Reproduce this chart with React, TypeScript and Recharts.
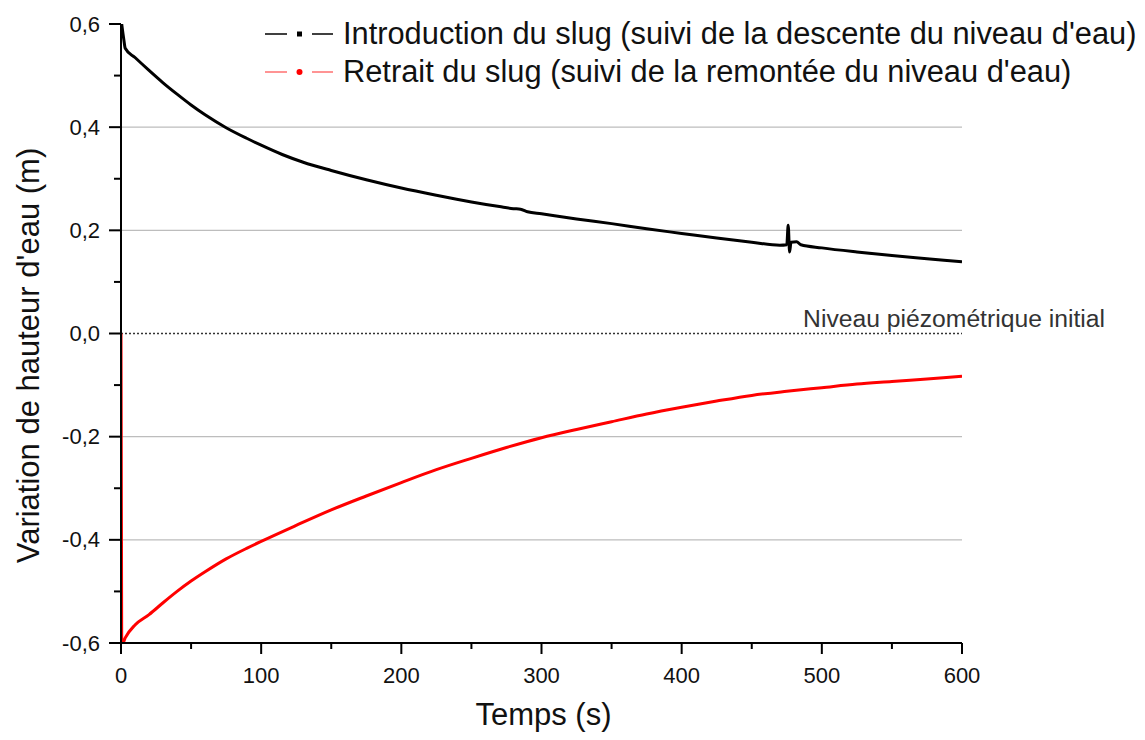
import { LineChart, Line, XAxis, YAxis, ReferenceLine } from 'recharts';

// Introduction du slug (descente)
const introTemps = [0.5, 2, 3, 10, 20, 30, 40, 50, 60, 75, 90, 100, 115, 130, 150, 175, 200, 225, 250, 270, 280, 285, 290, 300, 325, 350, 375, 400, 425, 450, 470, 475, 476, 477, 478, 482, 485, 500, 525, 550, 575, 600];
const introNiveau = [0.6, 0.57, 0.553, 0.535, 0.51, 0.486, 0.464, 0.443, 0.424, 0.399, 0.378, 0.365, 0.347, 0.332, 0.316, 0.298, 0.282, 0.268, 0.255, 0.246, 0.242, 0.241, 0.236, 0.232, 0.222, 0.213, 0.203, 0.194, 0.185, 0.177, 0.171, 0.172, 0.21, 0.158, 0.177, 0.178, 0.172, 0.166, 0.158, 0.151, 0.145, 0.139];

// Retrait du slug (remontée)
const retraitTemps = [0, 0.5, 1, 3, 10, 20, 30, 40, 50, 60, 75, 90, 100, 125, 150, 175, 200, 225, 250, 275, 300, 325, 350, 375, 400, 425, 450, 475, 500, 525, 550, 575, 600];
const retraitNiveau = [0, -0.6, -0.602, -0.59, -0.565, -0.545, -0.522, -0.5, -0.48, -0.462, -0.437, -0.416, -0.403, -0.372, -0.342, -0.315, -0.289, -0.264, -0.242, -0.221, -0.202, -0.186, -0.171, -0.156, -0.143, -0.131, -0.12, -0.112, -0.105, -0.098, -0.093, -0.088, -0.083];

const xTicks = [0, 50, 100, 150, 200, 250, 300, 350, 400, 450, 500, 550, 600];
const yTicks = [-0.6, -0.5, -0.4, -0.3, -0.2, -0.1, 0, 0.1, 0.2, 0.3, 0.4, 0.5, 0.6];
const gridValues = [-0.4, -0.2, 0.2, 0.4];

const legendRows = [
  { label: "Introduction du slug (suivi de la descente du niveau d'eau)", line: '#000', mark: '#000', square: true },
  { label: "Retrait du slug (suivi de la remontée du niveau d'eau)", line: '#ff7070', mark: '#ff0000', square: false },
];

const introData = introTemps.map((t, i) => ({ t, v: introNiveau[i] }));
const retraitData = retraitTemps.map((t, i) => ({ t, v: retraitNiveau[i] }));

const FONT = '"Liberation Sans", Arial, sans-serif';

const fmt = (v: number) => v.toFixed(1).replace('.', ',');

function YTick(props: any) {
  const { x, y, payload } = props;
  const major = Math.abs(Math.round(payload.value * 10)) % 2 === 0;
  return (
    <g>
      <line x1={x} x2={x - (major ? 12 : 7)} y1={y} y2={y} stroke="#000" strokeWidth={2} />
      {major && (
        <text x={x - 21} y={y} textAnchor="end" dominantBaseline="central" fontSize={22} fill="#111" fontFamily={FONT}>
          {fmt(payload.value)}
        </text>
      )}
    </g>
  );
}

function XTick(props: any) {
  const { x, y, payload } = props;
  const major = payload.value % 100 === 0;
  return (
    <g>
      <line x1={x} x2={x} y1={y} y2={y + (major ? 11 : 6)} stroke="#000" strokeWidth={2} />
      {major && (
        <text x={x} y={y + 32} textAnchor="middle" dominantBaseline="central" fontSize={22} fill="#111" fontFamily={FONT}>
          {payload.value}
        </text>
      )}
    </g>
  );
}

function ChartLegend() {
  return (
    <div style={{ position: 'absolute', left: 265, top: 15, fontFamily: FONT }}>
      {legendRows.map((r) => (
        <div key={r.label} style={{ display: 'flex', alignItems: 'center', height: 38 }}>
          <svg width={78} height={20}>
            <line x1={0} x2={22} y1={10} y2={10} stroke={r.line} strokeWidth={1.5} />
            <line x1={47} x2={68} y1={10} y2={10} stroke={r.line} strokeWidth={1.5} />
            {r.square ? (
              <rect x={32} y={7.5} width={5} height={5} fill={r.mark} />
            ) : (
              <circle cx={34.5} cy={10} r={3} fill={r.mark} />
            )}
          </svg>
          <span style={{ fontSize: 30.8, color: '#111', whiteSpace: 'nowrap', lineHeight: '38px' }}>{r.label}</span>
        </div>
      ))}
    </div>
  );
}

export default function App() {
  return (
    <div style={{ position: 'absolute', left: 0, top: 0, width: 1145, height: 740, background: '#fff' }}>
      <LineChart width={1145} height={740} margin={{ top: 24, right: 183, bottom: 0, left: 0 }}>
        {gridValues.map((g) => (
          <ReferenceLine key={g} y={g} stroke="#bdbdbd" strokeWidth={1.2} />
        ))}
        <ReferenceLine
          y={0}
          stroke="#333"
          strokeDasharray="2 2"
          strokeWidth={1.5}
          label={(p: any) => {
            const vb = p.viewBox;
            return (
              <text x={vb.x + vb.width + 143} y={vb.y - 7} textAnchor="end" fontSize={24.7} fill="#333" fontFamily={FONT}>
                Niveau piézométrique initial
              </text>
            );
          }}
        />
        <XAxis
          type="number"
          dataKey="t"
          domain={[0, 600]}
          ticks={xTicks}
          interval={0}
          height={97}
          tickSize={0}
          tickMargin={0}
          tickLine={false}
          tick={<XTick />}
          axisLine={{ stroke: '#000', strokeWidth: 2 }}
          allowDataOverflow
          label={(p: any) => {
            const vb = p.viewBox;
            return (
              <text x={vb.x + vb.width / 2 + 2} y={725} textAnchor="middle" fontSize={31} fill="#111" fontFamily={FONT}>
                Temps (s)
              </text>
            );
          }}
        />
        <YAxis
          type="number"
          dataKey="v"
          domain={[-0.6, 0.6]}
          ticks={yTicks}
          interval={0}
          width={121}
          tickSize={0}
          tickMargin={0}
          tickLine={false}
          tick={<YTick />}
          axisLine={{ stroke: '#000', strokeWidth: 2 }}
          allowDataOverflow
          label={(p: any) => {
            const vb = p.viewBox;
            const cy = vb.y + vb.height / 2 + 22;
            return (
              <text x={28} y={cy} transform={`rotate(-90, 28, ${cy})`} textAnchor="middle" dominantBaseline="central" fontSize={31} fill="#111" fontFamily={FONT}>
                Variation de hauteur d'eau (m)
              </text>
            );
          }}
        />
        <Line data={retraitData} dataKey="v" type="monotone" stroke="#ff0000" strokeWidth={3} dot={false} isAnimationActive={false} />
        <Line data={introData} dataKey="v" type="monotone" stroke="#000" strokeWidth={3} dot={false} isAnimationActive={false} />
      </LineChart>
      <ChartLegend />
    </div>
  );
}
